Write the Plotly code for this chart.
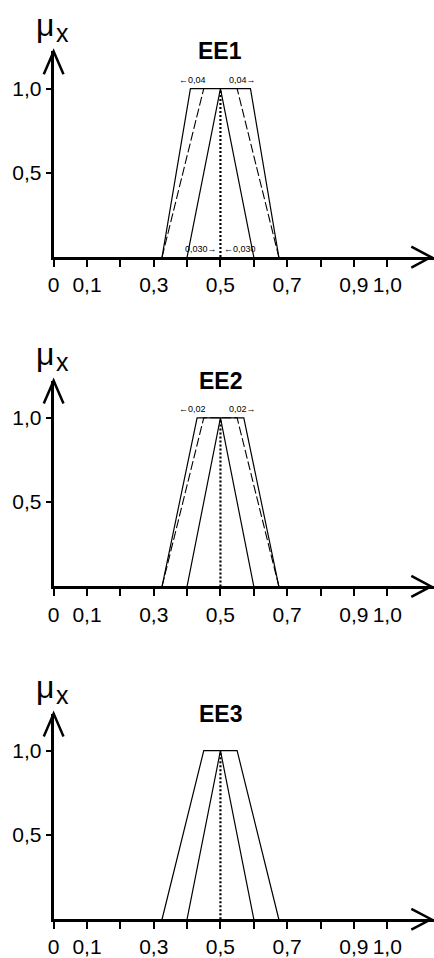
import plotly.graph_objects as go

# ---------------- data ----------------
panels = ["EE1", "EE2", "EE3"]
mu_y = [0, 1, 1, 0]
# outer (solid) trapezoids
outer_x = {
    "EE1": [0.325, 0.41, 0.59, 0.675],
    "EE2": [0.325, 0.43, 0.57, 0.675],
    "EE3": [0.325, 0.45, 0.55, 0.675],
}
# dashed trapezoids (None = absent)
dashed_x = {
    "EE1": [0.325, 0.45, 0.55, 0.675],
    "EE2": [0.325, 0.45, 0.55, 0.675],
    "EE3": None,
}
tri_x = [0.40, 0.50, 0.60]
tri_y = [0, 1, 0]
peak_x = [0.5, 0.5]
peak_y = [0, 1]
shift_label = {"EE1": "0,04", "EE2": "0,02", "EE3": None}
bottom_label = {"EE1": "0,030", "EE2": None, "EE3": None}

x_tickvals = [0, 0.1, 0.2, 0.3, 0.4, 0.5, 0.6, 0.7, 0.8, 0.9, 1.0]
x_ticktext = ["0", "0,1", "", "0,3", "", "0,5", "", "0,7", "", "0,9", "1,0"]
y_tickvals = [0.5, 1.0]
y_ticktext = ["0,5", "1,0"]

# ---------------- geometry (pixels) ----------------
W, H = 434, 958
X0_PX = 48.3          # x = 0
UNIT_X = 338.3        # px per unit x
AXIS_Y_PX = 259.0     # y = 0 in first panel
UNIT_Y = 169.8
offsets = [0.0, 331.7, 667.0]
YTOP = 1.22
XMAX = (W - X0_PX) / UNIT_X

FONT = "Liberation Sans, Arial, sans-serif"


def px(x):
    return x / W


def py(y):
    return 1 - y / H


fig = go.Figure()
layout = dict(
    width=W, height=H,
    margin=dict(l=0, r=0, t=0, b=0),
    paper_bgcolor="white", plot_bgcolor="white",
    showlegend=False,
)
annotations = []
shapes = []

for i, name in enumerate(panels):
    sfx = "" if i == 0 else str(i + 1)
    xa, ya = "x" + sfx, "y" + sfx
    off = offsets[i]
    base = AXIS_Y_PX + off
    top = base - YTOP * UNIT_Y

    layout["xaxis" + sfx] = dict(
        domain=[X0_PX / W, 1], range=[0, XMAX], anchor=ya,
        showgrid=False, zeroline=False, showline=True, linecolor="black", linewidth=3,
        ticks="outside", ticklen=7, tickwidth=2, tickcolor="black",
        tickvals=x_tickvals, ticktext=x_ticktext,
        tickfont=dict(family=FONT, size=21, color="black"),
        fixedrange=True,
    )
    layout["yaxis" + sfx] = dict(
        domain=[py(base), py(top)], range=[0, YTOP], anchor=xa,
        showgrid=False, zeroline=False, showline=True, linecolor="black", linewidth=3,
        ticks="outside", ticklen=5, tickwidth=2, tickcolor="black",
        tickvals=y_tickvals, ticktext=y_ticktext,
        tickfont=dict(family=FONT, size=21, color="black"),
        fixedrange=True,
    )

    # membership functions
    fig.add_trace(go.Scatter(x=outer_x[name], y=mu_y, mode="lines",
                             line=dict(color="black", width=1.2), xaxis=xa, yaxis=ya))
    if dashed_x[name] is not None:
        fig.add_trace(go.Scatter(x=dashed_x[name], y=mu_y, mode="lines",
                                 line=dict(color="black", width=1.1, dash="9px,3px"),
                                 xaxis=xa, yaxis=ya))
    fig.add_trace(go.Scatter(x=tri_x, y=tri_y, mode="lines",
                             line=dict(color="black", width=1.2), xaxis=xa, yaxis=ya))
    fig.add_trace(go.Scatter(x=peak_x, y=peak_y, mode="lines",
                             line=dict(color="black", width=2.2, dash="2px,2px"),
                             xaxis=xa, yaxis=ya))

    # title
    annotations.append(dict(text="<b>%s</b>" % name, x=0.5, y=YTOP, xref=xa, yref=ya,
                            xanchor="center", yanchor="middle", showarrow=False,
                            font=dict(family=FONT, size=23, color="black")))
    # mu_x label
    annotations.append(dict(text="μ", x=px(40), y=py(25 + off), xref="paper", yref="paper",
                            xanchor="center", yanchor="middle", showarrow=False,
                            font=dict(family=FONT, size=32, color="black")))
    annotations.append(dict(text="x", x=px(57.5), y=py(33 + off), xref="paper", yref="paper",
                            xanchor="center", yanchor="middle", showarrow=False,
                            font=dict(family=FONT, size=25, color="black")))

    # shift labels at the top
    if shift_label[name]:
        annotations.append(dict(text="←" + shift_label[name], x=0.462, y=1.053, xref=xa, yref=ya,
                                xanchor="right", yanchor="middle", showarrow=False,
                                font=dict(family=FONT, size=9, color="black")))
        annotations.append(dict(text=shift_label[name] + "→", x=0.52, y=1.053, xref=xa, yref=ya,
                                xanchor="left", yanchor="middle", showarrow=False,
                                font=dict(family=FONT, size=9, color="black")))
    if bottom_label[name]:
        annotations.append(dict(text=bottom_label[name] + "→", x=0.497, y=0.05, xref=xa, yref=ya,
                                xanchor="right", yanchor="middle", showarrow=False,
                                font=dict(family=FONT, size=9, color="black")))
        annotations.append(dict(text="←" + bottom_label[name], x=0.505, y=0.05, xref=xa, yref=ya,
                                xanchor="left", yanchor="middle", showarrow=False,
                                font=dict(family=FONT, size=9, color="black")))

    # arrow heads (open chevrons)
    shapes.append(dict(type="path", xref="paper", yref="paper",
                       path="M %f,%f L %f,%f L %f,%f" % (px(38.3), py(top + 23), px(X0_PX), py(top),
                                                        px(58.3), py(top + 23)),
                       line=dict(color="black", width=2.5)))
    shapes.append(dict(type="path", xref="paper", yref="paper",
                       path="M %f,%f L %f,%f L %f,%f" % (px(411), py(base - 10.5), px(431), py(base),
                                                        px(411), py(base + 10.5)),
                       line=dict(color="black", width=2.5)))

layout["annotations"] = annotations
layout["shapes"] = shapes
fig.update_layout(**layout)
fig.write_html(
    "out.html",
    config={"displayModeBar": False},
    post_script="document.body.style.margin='0';document.body.style.overflow='hidden';",
)
